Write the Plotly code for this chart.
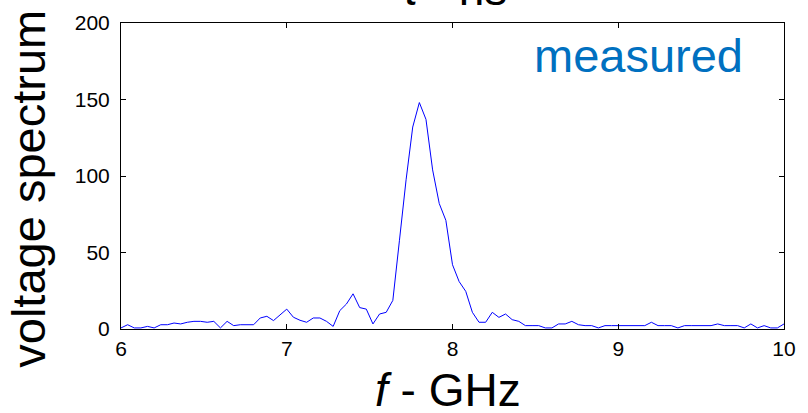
import plotly.graph_objects as go

freq_ghz = [
    6.00, 6.04, 6.08, 6.12, 6.16, 6.20, 6.24, 6.28, 6.32, 6.36,
    6.40, 6.44, 6.48, 6.52, 6.56, 6.60, 6.64, 6.68, 6.72, 6.76,
    6.80, 6.84, 6.88, 6.92, 6.96, 7.00, 7.04, 7.08, 7.12, 7.16,
    7.20, 7.24, 7.28, 7.32, 7.36, 7.40, 7.44, 7.48, 7.52, 7.56,
    7.60, 7.64, 7.68, 7.72, 7.76, 7.80, 7.84, 7.88, 7.92, 7.96,
    8.00, 8.04, 8.08, 8.12, 8.16, 8.20, 8.24, 8.28, 8.32, 8.36,
    8.40, 8.44, 8.48, 8.52, 8.56, 8.60, 8.64, 8.68, 8.72, 8.76,
    8.80, 8.84, 8.88, 8.92, 8.96, 9.00, 9.04, 9.08, 9.12, 9.16,
    9.20, 9.24, 9.28, 9.32, 9.36, 9.40, 9.44, 9.48, 9.52, 9.56,
    9.60, 9.64, 9.68, 9.72, 9.76, 9.80, 9.84, 9.88, 9.92, 9.96,
    10.00,
]

voltage_spectrum = [
    0.7, 2.8, 0.7, 0.7, 1.7, 0.7, 2.8, 2.8, 3.9, 3.3,
    4.4, 5.0, 5.0, 4.4, 5.0, 0.7, 5.0, 2.2, 2.8, 2.8,
    2.8, 7.2, 8.3, 5.5, 9.3, 13.0, 7.7, 5.7, 4.4, 7.2,
    7.2, 5.0, 1.7, 12.0, 16.3, 23.0, 14.0, 13.0, 3.3, 9.8,
    10.9, 18.7, 58.0, 97.5, 132.0, 148.0, 137.0, 104.0, 82.0, 71.0,
    42.0, 31.0, 24.6, 10.9, 4.4, 4.4, 10.9, 7.6, 9.8, 6.1,
    5.0, 2.2, 2.2, 2.2, 0.7, 0.7, 3.3, 3.3, 5.0, 2.8,
    2.2, 2.2, 0.7, 2.2, 2.2, 2.2, 2.2, 2.2, 2.2, 2.2,
    4.4, 2.2, 2.2, 2.2, 0.7, 2.2, 2.2, 2.2, 2.2, 2.2,
    3.3, 2.2, 2.2, 2.2, 0.7, 3.3, 0.7, 2.2, 0.7, 0.7,
    3.3,
]

x_ticks = [6, 7, 8, 9, 10]
y_ticks = [0, 50, 100, 150, 200]

FONT = "Liberation Sans, Arial, sans-serif"

fig = go.Figure()
fig.add_trace(go.Scatter(
    x=freq_ghz, y=voltage_spectrum, mode="lines",
    line=dict(color="#0000FF", width=1),
    showlegend=False, hoverinfo="skip",
))

axis_common = dict(
    showline=True, linecolor="black", linewidth=1, mirror="ticks",
    ticks="inside", ticklen=5, tickcolor="black", tickwidth=1,
    showgrid=False, zeroline=False,
    tickfont=dict(family=FONT, size=21, color="black"),
)

fig.update_layout(
    width=808, height=413,
    margin=dict(l=121, r=24, t=23, b=84),
    paper_bgcolor="white", plot_bgcolor="white",
    xaxis=dict(range=[6, 10], tickvals=x_ticks, ticktext=[str(v) for v in x_ticks],
               ticklabelstandoff=1, **axis_common),
    yaxis=dict(range=[0, 200], tickvals=y_ticks, ticktext=[str(v) for v in y_ticks],
               ticklabelstandoff=6, **axis_common),
    annotations=[
        dict(text="measured", x=0.78, y=0.894, xref="paper", yref="paper",
             xanchor="center", yanchor="middle", showarrow=False,
             font=dict(family=FONT, size=47, color="#0070C0")),
        dict(text="voltage spectrum", x=-0.140, y=0.459, xref="paper", yref="paper",
             xanchor="center", yanchor="middle", textangle=-90, showarrow=False,
             font=dict(family=FONT, size=47, color="black")),
        dict(text="<i>f</i> - GHz", x=0.493, y=-0.108, xref="paper", yref="paper",
             xanchor="center", yanchor="top", showarrow=False,
             font=dict(family=FONT, size=46, color="black")),
        dict(text="<i>t</i> - ns", x=0.505, y=1.02, xref="paper", yref="paper",
             xanchor="center", yanchor="bottom", showarrow=False,
             font=dict(family=FONT, size=46, color="black")),
    ],
)

fig.write_html("out.html")
